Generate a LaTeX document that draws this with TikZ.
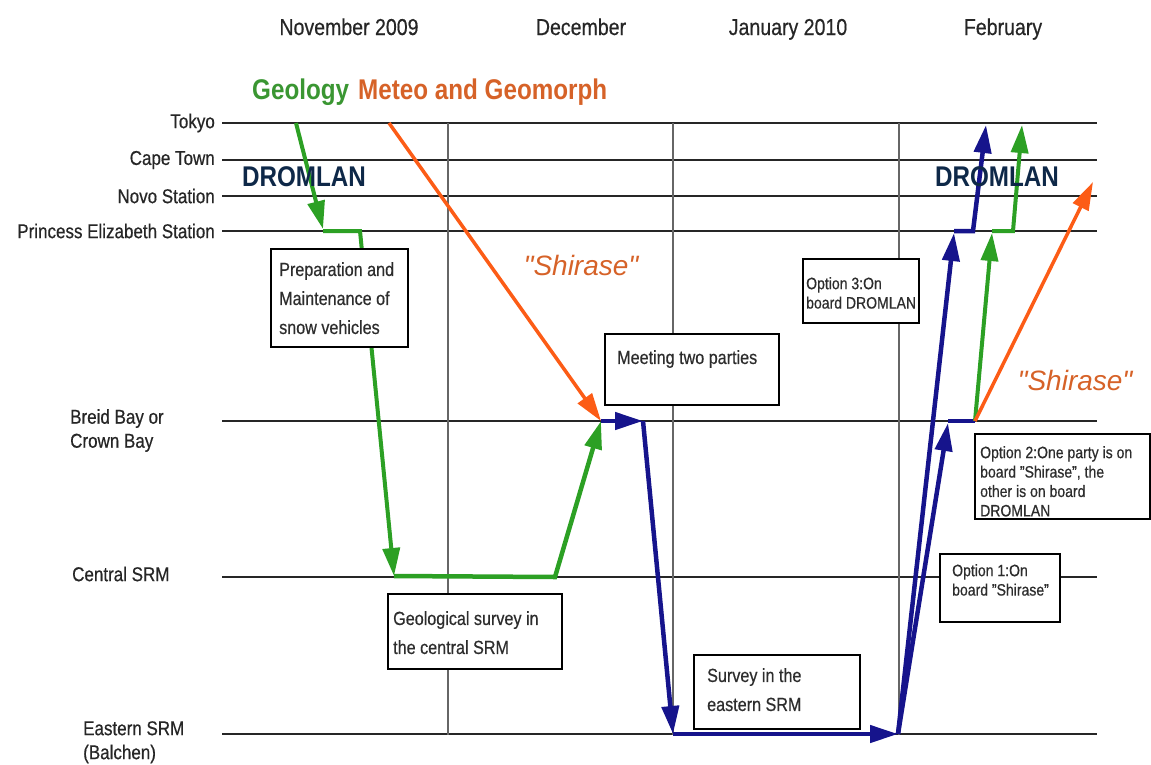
\documentclass[tikz,border=0pt]{standalone}
\usepackage{fontspec}
\setmainfont{Liberation Sans}[FakeStretch=0.85, UprightFeatures={FakeBold=0.5}]
\newfontfamily\shipfont{Liberation Sans}
\usetikzlibrary{arrows.meta}

\definecolor{geogreen}{RGB}{44,160,36}
\definecolor{geotext}{RGB}{58,150,50}
\definecolor{meteoorange}{RGB}{252,92,22}
\definecolor{meteotext}{RGB}{214,98,40}
\definecolor{partynavy}{RGB}{22,20,140}
\definecolor{dromlanblue}{RGB}{14,40,72}
\definecolor{boxtext}{RGB}{45,45,45}

\tikzset{
  placeline/.style={line width=1.6pt, black!85},
  monthline/.style={line width=1.4pt, black!60},
  placelabel/.style={font=\fontsize{20}{24}\selectfont, text=black!85, inner sep=0pt, align=left},
  monthlabel/.style={font=\fontsize{23}{24}\selectfont, text=black!85, inner sep=0pt, anchor=base},
  leg/.style={line width=4pt, -{Triangle[length=28pt,width=17pt]}},
  notebox/.style={draw, line width=2.4pt, fill=white, anchor=north west, inner sep=0pt},
  notetext/.style={font=\fontsize{19}{29}\selectfont, text=boxtext, align=left, anchor=north west, inner sep=0pt},
  optiontext/.style={font=\fontsize{16.5}{19.4}\selectfont, text=boxtext, align=left, anchor=north west, inner sep=0pt},
  teamlabel/.style={font=\bfseries\fontsize{28.5}{30}\selectfont, inner sep=0pt},
  shiplabel/.style={font=\shipfont\itshape\fontsize{28}{30}\selectfont, text=meteotext, inner sep=0pt}
}

\begin{document}
\begin{tikzpicture}[x=1pt, y=-1pt]
    \useasboundingbox (0,0) rectangle (1151,764);

    % months
    \node[monthlabel] (nov) at (349,35) {November 2009};
    \node[monthlabel] (dec) at (581,35) {December};
    \node[monthlabel] (jan) at (788,35) {January 2010};
    \node[monthlabel] (feb) at (1003,35) {February};

    % places
    \node[placelabel, anchor=east] (tokyo) at (215,123) {Tokyo};
    \node[placelabel, anchor=east] (cape) at (215,160) {Cape Town};
    \node[placelabel, anchor=east] (novo) at (215,196) {Novo Station};
    \node[placelabel, anchor=east] (pes) at (215,231) {Princess Elizabeth Station};
    \node[placelabel, anchor=north west] (breid) at (70,409) {Breid Bay or\\Crown Bay};
    \node[placelabel, anchor=west] (central) at (72,574) {Central SRM};
    \node[placelabel, anchor=north west] (eastern) at (83,721) {Eastern SRM\\(Balchen)};

    \draw[placeline] (222,123) coordinate (tokyoW) -- (1097,123) coordinate (tokyoE);
    \draw[placeline] (222,160) coordinate (capeW) -- (1097,160) coordinate (capeE);
    \draw[placeline, line width=2.4pt] (222,196) coordinate (novoW) -- (1097,196) coordinate (novoE);
    \draw[placeline] (222,231) coordinate (pesW) -- (1097,231) coordinate (pesE);
    \draw[placeline] (222,421) coordinate (breidW) -- (1097,421) coordinate (breidE);
    \draw[placeline] (222,577) coordinate (centralW) -- (1097,577) coordinate (centralE);
    \draw[placeline] (222,734) coordinate (easternW) -- (1097,734) coordinate (easternE);

    \draw[monthline] (448,123) -- (448,735);
    \draw[monthline] (673,123) -- (673,735);
    \draw[monthline] (899,123) -- (899,735);

    % geology party
    \coordinate (g0) at (296,123);
    \coordinate (g1) at (323,229);
    \coordinate (g2) at (323,231);
    \coordinate (g3) at (360,231);
    \coordinate (g4) at (394,576);
    \coordinate (g5) at (555,577);
    \coordinate (meet) at (601,421);
    \draw[leg, geogreen] (g0) -- (g1);
    \draw[leg, geogreen] (g2) -- (g3) -- (g4);
    \draw[leg, geogreen, line width=4.5pt] (g4) -- (g5) -- (meet);

    % meteo party, Shirase
    \coordinate (m0) at (389,123);
    \draw[leg, meteoorange, line width=3.5pt] (m0) -- (meet);

    % both parties
    \coordinate (b1) at (643,421);
    \coordinate (b2) at (673,734);
    \coordinate (b3) at (898,734);
    \draw[leg, partynavy, line width=4.5pt] (meet) -- (b1);
    \draw[leg, partynavy, line width=4.5pt] (b1) -- (b2);
    \draw[leg, partynavy, line width=4.5pt] (b2) -- (b3);

    % option 3
    \coordinate (o3a) at (954,233);
    \coordinate (o3b) at (954,231);
    \coordinate (o3c) at (973,231);
    \coordinate (o3d) at (986,125);
    \draw[leg, partynavy, line width=4.5pt] (b3) -- (o3a);
    \draw[leg, partynavy, line width=4.5pt] (o3b) -- (o3c) -- (o3d);

    % option 2 and 1
    \coordinate (o2a) at (948,423);
    \coordinate (split) at (975,421);
    \draw[leg, partynavy, line width=4.5pt] (b3) -- (o2a);
    \draw[partynavy, line width=4.5pt] (948,421) -- (split);
    \coordinate (o2g) at (992,233);
    \coordinate (o2h) at (992,231);
    \coordinate (o2i) at (1013,231);
    \coordinate (o2j) at (1022,125);
    \draw[leg, geogreen] (split) -- (o2g);
    \draw[leg, geogreen] (o2h) -- (o2i) -- (o2j);
    \coordinate (o2s) at (1093,182);
    \draw[leg, meteoorange, line width=3.5pt] (split) -- (o2s);

    % boxes
    \node[notebox, minimum width=137, minimum height=98] (prepbox) at (270,248) {};
    \node[notetext] (preptext) at (279,262) {Preparation and\\Maintenance of\\snow vehicles};
    \node[notebox, minimum width=174, minimum height=71] (meetbox) at (604,333) {};
    \node[notetext] (meettext) at (617,350) {Meeting two parties};
    \node[notebox, minimum width=174, minimum height=75] (geobox) at (387,593) {};
    \node[notetext] (geotext) at (393,611) {Geological survey in\\the central SRM};
    \node[notebox, minimum width=166, minimum height=74] (eastbox) at (693,654) {};
    \node[notetext] (easttext) at (707,668) {Survey in the\\eastern SRM};
    \node[notebox, minimum width=116, minimum height=64] (opt3box) at (802,258) {};
    \node[optiontext] (opt3text) at (806,277) {Option 3:On\\board DROMLAN};
    \node[notebox, minimum width=175, minimum height=85] (opt2box) at (974,433) {};
    \node[optiontext] (opt2text) at (980,446) {Option 2:One party is on\\board "Shirase", the\\other is on board\\DROMLAN};
    \node[notebox, minimum width=120, minimum height=68] (opt1box) at (939,553) {};
    \node[optiontext] (opt1text) at (952,564) {Option 1:On\\board "Shirase"};

    % party and transport labels
    \node[teamlabel, text=geotext, anchor=west] (geology) at (252,92) {Geology};
    \node[teamlabel, text=meteotext, anchor=west] (meteo) at (358,92) {Meteo and Geomorph};
    \node[teamlabel, text=dromlanblue] (dromlanW) at (304,177) {DROMLAN};
    \node[teamlabel, text=dromlanblue] (dromlanE) at (997,177) {DROMLAN};
    \node[shiplabel] (shiraseW) at (581,265) {"Shirase"};
    \node[shiplabel] (shiraseE) at (1075,380) {"Shirase"};

\end{tikzpicture}
\end{document}
